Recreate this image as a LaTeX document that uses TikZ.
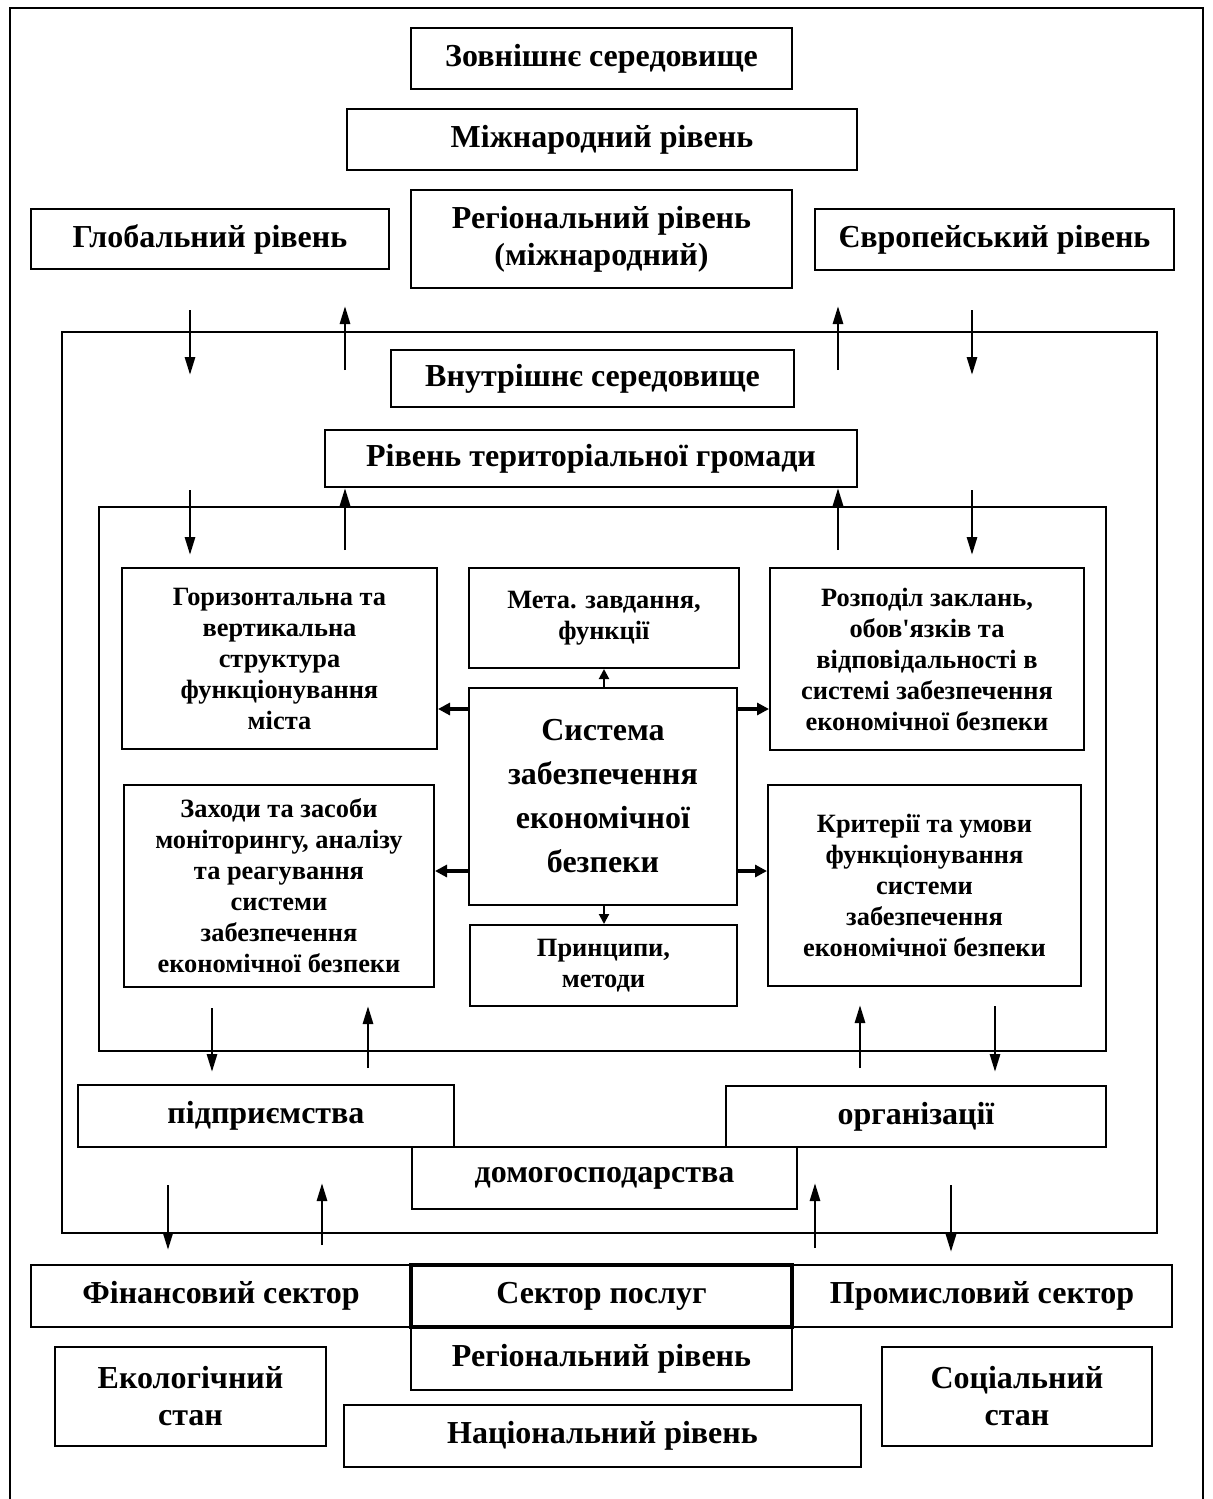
\documentclass[tikz,border=0pt]{standalone}
\usepackage{fontspec}
\setmainfont{Liberation Serif}
\usetikzlibrary{arrows.meta}

\begin{document}
\begin{tikzpicture}[
  x=0.5pt, y=-0.5pt,
  box/.style={
      draw,
      line width=1pt,
      align=center,
      inner sep=0pt,
      font=\bfseries\fontsize{16}{18.5}\selectfont
    },
  small box/.style={
      box,
      font=\bfseries\fontsize{13.2}{15.5}\selectfont
    },
  frame/.style={
      line width=1pt
    },
  arr/.style={
      arrows = {-{Triangle[length=9pt,width=5pt]}},
      line width=1.4pt
    },
  short arr/.style={
      arrows = {-{Triangle[length=6pt,width=6pt]}},
      line width=2pt
    }]
  \useasboundingbox (0,0) rectangle (1213,1499);
  \draw [frame] (10,1499) -- (10,8) -- (1203,8) -- (1203,1499);

  % outer environment
  \node [box, minimum width=190.5pt, minimum height=30.5pt] (ext) at (601.5,58.5) {Зовнішнє середовище};
  \node [box, minimum width=255pt, minimum height=30.5pt] (intl) at (602,139.5) {Міжнародний рівень};
  \node [box, minimum width=179pt, minimum height=30pt] (glob) at (210,239) {Глобальний рівень};
  \node [box, minimum width=190.5pt, minimum height=49pt] (regi) at (601.5,239) {Регіональний рівень\\(міжнародний)};
  \node [box, minimum width=179.5pt, minimum height=30.5pt] (euro) at (994.5,239.5) {Європейський рівень};

  % internal environment
  \draw [frame] (62,332) rectangle (1157,1233);
  \node [box, minimum width=201.5pt, minimum height=28.5pt] (inner) at (592.5,378.5) {Внутрішнє середовище};
  \node [box, minimum width=266pt, minimum height=28.5pt] (terr) at (591,458.5) {Рівень територіальної громади};

  % system
  \draw [frame] (99,507) rectangle (1106,1051);
  \node [small box, minimum width=157.5pt, minimum height=90.5pt] (gor) at (279.5,658.5)
    {Горизонтальна та\\вертикальна\\структура\\функціонування\\міста};
  \node [small box, minimum width=135pt, minimum height=50pt] (meta) at (604,618)
    {Мета. завдання,\\функції};
  \node [small box, minimum width=157pt, minimum height=91pt] (rozp) at (927,659)
    {Розподіл заклань,\\обов\textquotesingle язків та\\відповідальності в\\системі забезпечення\\економічної безпеки};
  \node [box, minimum width=134pt, minimum height=108.5pt, font=\bfseries\fontsize{16}{22}\selectfont] (sys) at (603,796.5)
    {Система\\забезпечення\\економічної\\безпеки};
  \node [small box, minimum width=155pt, minimum height=101pt] (zax) at (279,886)
    {Заходи та засоби\\моніторингу, аналізу\\та реагування\\системи\\забезпечення\\економічної безпеки};
  \node [small box, minimum width=133.5pt, minimum height=40.5pt] (prin) at (603.5,965.5)
    {Принципи,\\методи};
  \node [small box, minimum width=156.5pt, minimum height=100.5pt] (krit) at (924.5,885.5)
    {Критерії та умови\\функціонування\\системи\\забезпечення\\економічної безпеки};

  \draw [short arr] (sys.west |- 0,709) -- (gor.east |- 0,709);
  \draw [short arr] (sys.east |- 0,709) -- (rozp.west |- 0,709);
  \draw [short arr] (sys.west |- 0,871) -- (zax.east |- 0,871);
  \draw [short arr] (sys.east |- 0,871) -- (krit.west |- 0,871);
  \draw [arr, line width=1pt, arrows={-{Triangle[length=5pt,width=5pt]}}] (sys.north -| 604,0) -- (meta.south -| 604,0);
  \draw [arr, line width=1pt, arrows={-{Triangle[length=5pt,width=5pt]}}] (sys.south -| 604,0) -- (prin.north -| 604,0);

  % economic agents
  \node [box, minimum width=188pt, minimum height=31pt] (pidp) at (266,1116) {підприємства};
  \node [box, minimum width=190pt, minimum height=30.5pt] (org) at (916,1116.5) {організації};
  \node [box, minimum width=192.5pt, minimum height=31pt] (dom) at (604.5,1178) {домогосподарства};

  % sectors and levels
  \node [box, minimum width=190pt, minimum height=31pt] (fin) at (221,1296) {Фінансовий сектор};
  \node [box, minimum width=190pt, minimum height=31pt] (prom) at (982,1296) {Промисловий сектор};
  \node [box, line width=1.6pt, minimum width=190.5pt, minimum height=31pt] (serv) at (601.5,1296) {Сектор послуг};
  \node [box, minimum width=190.5pt, minimum height=31.5pt] (regb) at (601.5,1358.5) {Регіональний рівень};
  \node [box, minimum width=135.5pt, minimum height=49.5pt] (eco) at (190.5,1396.5) {Екологічний\\стан};
  \node [box, minimum width=258.5pt, minimum height=31pt] (nat) at (602.5,1436) {Національний рівень};
  \node [box, minimum width=135pt, minimum height=49.5pt] (soc) at (1017,1396.5) {Соціальний\\стан};

  % flows between levels
  \foreach \x/\ya/\yb [count=\i] in {
      190/310/375, 345/370/306, 838/370/306, 972/310/375,
      190/490/555, 345/550/488, 838/550/488, 972/490/555,
      212/1008/1072, 368/1068/1006, 860/1068/1005, 995/1006/1072,
      168/1185/1250, 322/1245/1183, 815/1248/1183, 951/1185/1252} {
    \coordinate (from\i) at (\x,\ya);
    \coordinate (to\i) at (\x,\yb);
    \draw [arr] (from\i) -- (to\i);
  }
\end{tikzpicture}
\end{document}
